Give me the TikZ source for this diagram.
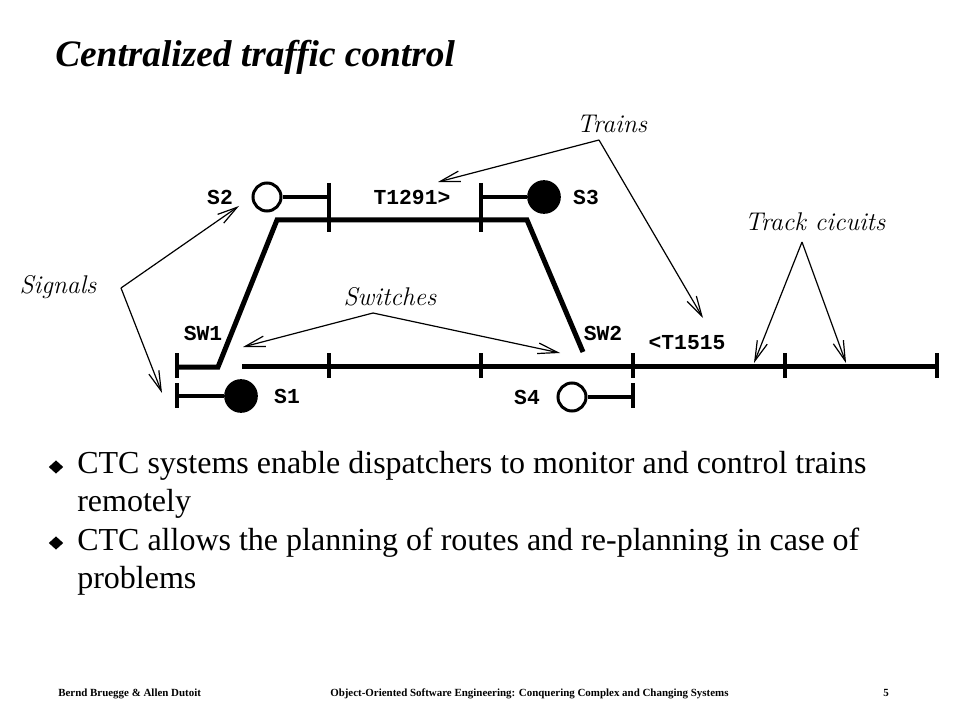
\documentclass[tikz,border=0pt]{standalone}
\usepackage{fontspec}
\newfontfamily\timesfont{Liberation Serif}
\newfontfamily\monofont{Liberation Mono}
\usepackage{tikz}
\usetikzlibrary{arrows.meta,shapes.geometric}

\tikzset{
  track/.style={line width=3.75pt},
  stem/.style={line width=3pt},
  tick/.style={line width=3pt},
  sigopen/.style={circle,draw,line width=2.25pt,minimum size=21pt,inner sep=0pt},
  sigfull/.style={sigopen,fill=black,minimum size=23pt},
  lbl/.style={font=\monofont\bfseries\fontsize{16}{16}\selectfont,inner sep=0pt},
  callout/.style={font=\itshape\fontsize{19.2}{21}\selectfont,inner sep=0pt},
  pointer/.style={-{Straight Barb[length=15pt,width=8pt]},line width=0.9pt},
  item/.style={font=\timesfont\fontsize{24}{28}\selectfont,inner sep=0pt,anchor=base west},
  bullet/.style={diamond,fill=black,inner sep=0pt,minimum width=11pt,minimum height=10pt},
  foot/.style={font=\timesfont\bfseries\fontsize{8.2}{9}\selectfont,inner sep=0pt,anchor=base west}
}

\begin{document}
\begin{tikzpicture}[x=0.75pt,y=-0.75pt]
\useasboundingbox (0,0) rectangle (960,720);

\node[anchor=base west,inner sep=0pt,font=\timesfont\bfseries\itshape\fontsize{28}{28}\selectfont] (title) at (55,67) {Centralized traffic control};

\coordinate (swa) at (177,367);
\coordinate (swb) at (218,367);
\coordinate (upl) at (277,220);
\coordinate (upr) at (527,220);
\coordinate (swc) at (583,352);
\coordinate (mainl) at (242,366);
\coordinate (mainr) at (937,366);
\draw[track] (swa) -- (swb) -- (upl) -- (upr) -- (swc);
\draw[track] (mainl) -- (mainr);

\foreach \x in {329,481,633,785,937}
  \draw[tick] (\x,353) -- (\x,378);
\foreach \x in {329,481}
  \draw[tick] (\x,183) -- (\x,232);
\draw[tick] (177,353) -- (177,378);
\draw[tick] (177,383) -- (177,408);
\draw[tick] (633,383) -- (633,408);

\node[sigopen] (s2) at (267,197) {};
\node[sigfull] (s3) at (544,197) {};
\node[sigfull] (s1) at (241,396) {};
\node[sigopen] (s4) at (572,397) {};
\coordinate (s2end) at (329,197);
\coordinate (s3end) at (481,197);
\coordinate (s1end) at (177,396);
\coordinate (s4end) at (633,397);
\draw[stem] (s2) -- (s2end);
\draw[stem] (s3) -- (s3end);
\draw[stem] (s1) -- (s1end);
\draw[stem] (s4) -- (s4end);

\node[lbl] (s2lbl) at (220,197) {S2};
\node[lbl] (s3lbl) at (586,197) {S3};
\node[lbl] (s1lbl) at (287,396) {S1};
\node[lbl] (s4lbl) at (527,397) {S4};
\node[lbl] (sw1lbl) at (203,333) {SW1};
\node[lbl] (sw2lbl) at (603,333) {SW2};
\node[lbl] (t1291) at (412,197) {T1291>};
\node[lbl] (t1515) at (687,343) {<T1515};

\node[callout] (signals) at (58,287) {Signals};
\coordinate (sigapex) at (121,288);
\coordinate (sigup) at (239,206);
\coordinate (sigdown) at (162,393);
\draw[pointer] (sigapex) -- (sigup);
\draw[pointer] (sigapex) -- (sigdown);

\node[callout] (switches) at (390,297) {Switches};
\coordinate (swapex) at (373,313);
\coordinate (swleft) at (243,347);
\coordinate (swright) at (560,353);
\draw[pointer] (swapex) -- (swleft);
\draw[pointer] (swapex) -- (swright);

\node[callout] (trains) at (612,124) {Trains};
\coordinate (trapex) at (599,140);
\coordinate (trleft) at (438,182);
\coordinate (trright) at (703,318);
\draw[pointer] (trapex) -- (trleft);
\draw[pointer] (trapex) -- (trright);

\node[callout] (circuits) at (815,222) {Track cicuits};
\coordinate (tcapex) at (802,242);
\coordinate (tcleft) at (754,363);
\coordinate (tcright) at (846,363);
\draw[pointer] (tcapex) -- (tcleft);
\draw[pointer] (tcapex) -- (tcright);

\node[bullet] (b1) at (56,467) {};
\node[item] (i1) at (77,473) {CTC systems enable dispatchers to monitor and control trains};
\node[item] (i1b) at (77,511) {remotely};
\node[bullet] (b2) at (56,543) {};
\node[item] (i2) at (77,550) {CTC allows the planning of routes and re-planning in case of};
\node[item] (i2b) at (77,588) {problems};

\node[foot] (authors) at (58,696) {Bernd Bruegge \& Allen Dutoit};
\node[foot] (book) at (330,696) {Object-Oriented Software Engineering: Conquering Complex and Changing Systems};
\node[foot,anchor=base] (page) at (886,696) {5};
\end{tikzpicture}
\end{document}
